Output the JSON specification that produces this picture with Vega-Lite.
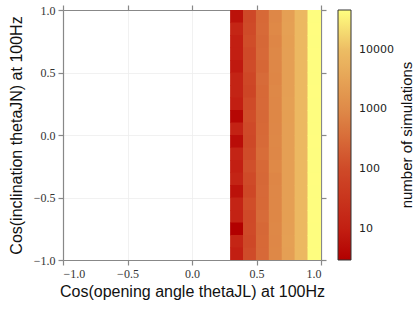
{
  "$schema": "https://vega.github.io/schema/vega-lite/v6.json",
  "width": 258,
  "height": 250,
  "autosize": {"type": "none"},
  "padding": {"left": 63, "top": 10, "right": 95, "bottom": 50},
  "background": "white",
  "config": {
    "view": {"stroke": null},
    "axis": {
      "labelFont": "Liberation Serif",
      "labelFontSize": 12,
      "labelColor": "#333",
      "tickColor": "#888",
      "domainColor": "#888",
      "domainWidth": 1.2,
      "tickWidth": 1.2,
      "tickSize": 5,
      "gridColor": "#eeeeee",
      "gridWidth": 0.8,
      "titleFont": "Liberation Sans",
      "titleFontSize": 16,
      "titleFontWeight": "normal",
      "titleColor": "#111"
    },
    "legend": {
      "labelFont": "DejaVu Sans",
      "labelFontSize": 11,
      "labelColor": "#222",
      "titleFont": "Liberation Sans",
      "titleFontSize": 15,
      "titleFontWeight": "normal",
      "titleColor": "#111"
    }
  },
  "data": {
    "values": [
      {"xlo":0.3,"xhi":0.4,"ylo":0.9,"yhi":1.0,"n":6},{"xlo":0.3,"xhi":0.4,"ylo":0.8,"yhi":0.9,"n":14},{"xlo":0.3,"xhi":0.4,"ylo":0.7,"yhi":0.8,"n":10},{"xlo":0.3,"xhi":0.4,"ylo":0.6,"yhi":0.7,"n":10},{"xlo":0.3,"xhi":0.4,"ylo":0.5,"yhi":0.6,"n":8},{"xlo":0.3,"xhi":0.4,"ylo":0.4,"yhi":0.5,"n":13},{"xlo":0.3,"xhi":0.4,"ylo":0.3,"yhi":0.4,"n":13},{"xlo":0.3,"xhi":0.4,"ylo":0.2,"yhi":0.3,"n":10},{"xlo":0.3,"xhi":0.4,"ylo":0.1,"yhi":0.2,"n":4},{"xlo":0.3,"xhi":0.4,"ylo":0.0,"yhi":0.1,"n":12},
      {"xlo":0.3,"xhi":0.4,"ylo":-0.1,"yhi":0.0,"n":5},{"xlo":0.3,"xhi":0.4,"ylo":-0.2,"yhi":-0.1,"n":13},{"xlo":0.3,"xhi":0.4,"ylo":-0.3,"yhi":-0.2,"n":10},{"xlo":0.3,"xhi":0.4,"ylo":-0.4,"yhi":-0.3,"n":13},{"xlo":0.3,"xhi":0.4,"ylo":-0.5,"yhi":-0.4,"n":6},{"xlo":0.3,"xhi":0.4,"ylo":-0.6,"yhi":-0.5,"n":13},{"xlo":0.3,"xhi":0.4,"ylo":-0.7,"yhi":-0.6,"n":12},{"xlo":0.3,"xhi":0.4,"ylo":-0.8,"yhi":-0.7,"n":3},{"xlo":0.3,"xhi":0.4,"ylo":-0.9,"yhi":-0.8,"n":14},{"xlo":0.3,"xhi":0.4,"ylo":-1.0,"yhi":-0.9,"n":10},

      {"xlo":0.4,"xhi":0.5,"ylo":0.9,"yhi":1.0,"n":90},{"xlo":0.4,"xhi":0.5,"ylo":0.8,"yhi":0.9,"n":100},{"xlo":0.4,"xhi":0.5,"ylo":0.7,"yhi":0.8,"n":110},{"xlo":0.4,"xhi":0.5,"ylo":0.6,"yhi":0.7,"n":95},{"xlo":0.4,"xhi":0.5,"ylo":0.5,"yhi":0.6,"n":105},{"xlo":0.4,"xhi":0.5,"ylo":0.4,"yhi":0.5,"n":85},{"xlo":0.4,"xhi":0.5,"ylo":0.3,"yhi":0.4,"n":75},{"xlo":0.4,"xhi":0.5,"ylo":0.2,"yhi":0.3,"n":100},{"xlo":0.4,"xhi":0.5,"ylo":0.1,"yhi":0.2,"n":110},{"xlo":0.4,"xhi":0.5,"ylo":0.0,"yhi":0.1,"n":95},
      {"xlo":0.4,"xhi":0.5,"ylo":-0.1,"yhi":0.0,"n":90},{"xlo":0.4,"xhi":0.5,"ylo":-0.2,"yhi":-0.1,"n":105},{"xlo":0.4,"xhi":0.5,"ylo":-0.3,"yhi":-0.2,"n":120},{"xlo":0.4,"xhi":0.5,"ylo":-0.4,"yhi":-0.3,"n":100},{"xlo":0.4,"xhi":0.5,"ylo":-0.5,"yhi":-0.4,"n":85},{"xlo":0.4,"xhi":0.5,"ylo":-0.6,"yhi":-0.5,"n":110},{"xlo":0.4,"xhi":0.5,"ylo":-0.7,"yhi":-0.6,"n":95},{"xlo":0.4,"xhi":0.5,"ylo":-0.8,"yhi":-0.7,"n":100},{"xlo":0.4,"xhi":0.5,"ylo":-0.9,"yhi":-0.8,"n":90},{"xlo":0.4,"xhi":0.5,"ylo":-1.0,"yhi":-0.9,"n":105},

      {"xlo":0.5,"xhi":0.6,"ylo":0.9,"yhi":1.0,"n":300},{"xlo":0.5,"xhi":0.6,"ylo":0.8,"yhi":0.9,"n":320},{"xlo":0.5,"xhi":0.6,"ylo":0.7,"yhi":0.8,"n":290},{"xlo":0.5,"xhi":0.6,"ylo":0.6,"yhi":0.7,"n":310},{"xlo":0.5,"xhi":0.6,"ylo":0.5,"yhi":0.6,"n":280},{"xlo":0.5,"xhi":0.6,"ylo":0.4,"yhi":0.5,"n":330},{"xlo":0.5,"xhi":0.6,"ylo":0.3,"yhi":0.4,"n":300},{"xlo":0.5,"xhi":0.6,"ylo":0.2,"yhi":0.3,"n":310},{"xlo":0.5,"xhi":0.6,"ylo":0.1,"yhi":0.2,"n":290},{"xlo":0.5,"xhi":0.6,"ylo":0.0,"yhi":0.1,"n":300},
      {"xlo":0.5,"xhi":0.6,"ylo":-0.1,"yhi":0.0,"n":320},{"xlo":0.5,"xhi":0.6,"ylo":-0.2,"yhi":-0.1,"n":350},{"xlo":0.5,"xhi":0.6,"ylo":-0.3,"yhi":-0.2,"n":300},{"xlo":0.5,"xhi":0.6,"ylo":-0.4,"yhi":-0.3,"n":290},{"xlo":0.5,"xhi":0.6,"ylo":-0.5,"yhi":-0.4,"n":310},{"xlo":0.5,"xhi":0.6,"ylo":-0.6,"yhi":-0.5,"n":300},{"xlo":0.5,"xhi":0.6,"ylo":-0.7,"yhi":-0.6,"n":330},{"xlo":0.5,"xhi":0.6,"ylo":-0.8,"yhi":-0.7,"n":290},{"xlo":0.5,"xhi":0.6,"ylo":-0.9,"yhi":-0.8,"n":300},{"xlo":0.5,"xhi":0.6,"ylo":-1.0,"yhi":-0.9,"n":310},

      {"xlo":0.6,"xhi":0.7,"ylo":0.9,"yhi":1.0,"n":900},{"xlo":0.6,"xhi":0.7,"ylo":0.8,"yhi":0.9,"n":950},{"xlo":0.6,"xhi":0.7,"ylo":0.7,"yhi":0.8,"n":880},{"xlo":0.6,"xhi":0.7,"ylo":0.6,"yhi":0.7,"n":920},{"xlo":0.6,"xhi":0.7,"ylo":0.5,"yhi":0.6,"n":900},{"xlo":0.6,"xhi":0.7,"ylo":0.4,"yhi":0.5,"n":870},{"xlo":0.6,"xhi":0.7,"ylo":0.3,"yhi":0.4,"n":930},{"xlo":0.6,"xhi":0.7,"ylo":0.2,"yhi":0.3,"n":910},{"xlo":0.6,"xhi":0.7,"ylo":0.1,"yhi":0.2,"n":890},{"xlo":0.6,"xhi":0.7,"ylo":0.0,"yhi":0.1,"n":900},
      {"xlo":0.6,"xhi":0.7,"ylo":-0.1,"yhi":0.0,"n":920},{"xlo":0.6,"xhi":0.7,"ylo":-0.2,"yhi":-0.1,"n":900},{"xlo":0.6,"xhi":0.7,"ylo":-0.3,"yhi":-0.2,"n":950},{"xlo":0.6,"xhi":0.7,"ylo":-0.4,"yhi":-0.3,"n":880},{"xlo":0.6,"xhi":0.7,"ylo":-0.5,"yhi":-0.4,"n":910},{"xlo":0.6,"xhi":0.7,"ylo":-0.6,"yhi":-0.5,"n":900},{"xlo":0.6,"xhi":0.7,"ylo":-0.7,"yhi":-0.6,"n":890},{"xlo":0.6,"xhi":0.7,"ylo":-0.8,"yhi":-0.7,"n":930},{"xlo":0.6,"xhi":0.7,"ylo":-0.9,"yhi":-0.8,"n":900},{"xlo":0.6,"xhi":0.7,"ylo":-1.0,"yhi":-0.9,"n":920},

      {"xlo":0.7,"xhi":0.8,"ylo":0.9,"yhi":1.0,"n":2600},{"xlo":0.7,"xhi":0.8,"ylo":0.8,"yhi":0.9,"n":2650},{"xlo":0.7,"xhi":0.8,"ylo":0.7,"yhi":0.8,"n":2550},{"xlo":0.7,"xhi":0.8,"ylo":0.6,"yhi":0.7,"n":2600},{"xlo":0.7,"xhi":0.8,"ylo":0.5,"yhi":0.6,"n":2620},{"xlo":0.7,"xhi":0.8,"ylo":0.4,"yhi":0.5,"n":2580},{"xlo":0.7,"xhi":0.8,"ylo":0.3,"yhi":0.4,"n":2600},{"xlo":0.7,"xhi":0.8,"ylo":0.2,"yhi":0.3,"n":2640},{"xlo":0.7,"xhi":0.8,"ylo":0.1,"yhi":0.2,"n":2570},{"xlo":0.7,"xhi":0.8,"ylo":0.0,"yhi":0.1,"n":2600},
      {"xlo":0.7,"xhi":0.8,"ylo":-0.1,"yhi":0.0,"n":2610},{"xlo":0.7,"xhi":0.8,"ylo":-0.2,"yhi":-0.1,"n":2590},{"xlo":0.7,"xhi":0.8,"ylo":-0.3,"yhi":-0.2,"n":2630},{"xlo":0.7,"xhi":0.8,"ylo":-0.4,"yhi":-0.3,"n":2580},{"xlo":0.7,"xhi":0.8,"ylo":-0.5,"yhi":-0.4,"n":2600},{"xlo":0.7,"xhi":0.8,"ylo":-0.6,"yhi":-0.5,"n":2620},{"xlo":0.7,"xhi":0.8,"ylo":-0.7,"yhi":-0.6,"n":2560},{"xlo":0.7,"xhi":0.8,"ylo":-0.8,"yhi":-0.7,"n":2600},{"xlo":0.7,"xhi":0.8,"ylo":-0.9,"yhi":-0.8,"n":2640},{"xlo":0.7,"xhi":0.8,"ylo":-1.0,"yhi":-0.9,"n":2590},

      {"xlo":0.8,"xhi":0.9,"ylo":0.9,"yhi":1.0,"n":8000},{"xlo":0.8,"xhi":0.9,"ylo":0.8,"yhi":0.9,"n":8100},{"xlo":0.8,"xhi":0.9,"ylo":0.7,"yhi":0.8,"n":7950},{"xlo":0.8,"xhi":0.9,"ylo":0.6,"yhi":0.7,"n":8050},{"xlo":0.8,"xhi":0.9,"ylo":0.5,"yhi":0.6,"n":8000},{"xlo":0.8,"xhi":0.9,"ylo":0.4,"yhi":0.5,"n":7900},{"xlo":0.8,"xhi":0.9,"ylo":0.3,"yhi":0.4,"n":8020},{"xlo":0.8,"xhi":0.9,"ylo":0.2,"yhi":0.3,"n":8080},{"xlo":0.8,"xhi":0.9,"ylo":0.1,"yhi":0.2,"n":7980},{"xlo":0.8,"xhi":0.9,"ylo":0.0,"yhi":0.1,"n":8000},
      {"xlo":0.8,"xhi":0.9,"ylo":-0.1,"yhi":0.0,"n":8060},{"xlo":0.8,"xhi":0.9,"ylo":-0.2,"yhi":-0.1,"n":7970},{"xlo":0.8,"xhi":0.9,"ylo":-0.3,"yhi":-0.2,"n":8010},{"xlo":0.8,"xhi":0.9,"ylo":-0.4,"yhi":-0.3,"n":8040},{"xlo":0.8,"xhi":0.9,"ylo":-0.5,"yhi":-0.4,"n":7990},{"xlo":0.8,"xhi":0.9,"ylo":-0.6,"yhi":-0.5,"n":8000},{"xlo":0.8,"xhi":0.9,"ylo":-0.7,"yhi":-0.6,"n":8070},{"xlo":0.8,"xhi":0.9,"ylo":-0.8,"yhi":-0.7,"n":7960},{"xlo":0.8,"xhi":0.9,"ylo":-0.9,"yhi":-0.8,"n":8030},{"xlo":0.8,"xhi":0.9,"ylo":-1.0,"yhi":-0.9,"n":8000},

      {"xlo":0.9,"xhi":1.0,"ylo":0.9,"yhi":1.0,"n":44000},{"xlo":0.9,"xhi":1.0,"ylo":0.8,"yhi":0.9,"n":44200},{"xlo":0.9,"xhi":1.0,"ylo":0.7,"yhi":0.8,"n":43900},{"xlo":0.9,"xhi":1.0,"ylo":0.6,"yhi":0.7,"n":44100},{"xlo":0.9,"xhi":1.0,"ylo":0.5,"yhi":0.6,"n":44000},{"xlo":0.9,"xhi":1.0,"ylo":0.4,"yhi":0.5,"n":43800},{"xlo":0.9,"xhi":1.0,"ylo":0.3,"yhi":0.4,"n":44150},{"xlo":0.9,"xhi":1.0,"ylo":0.2,"yhi":0.3,"n":44050},{"xlo":0.9,"xhi":1.0,"ylo":0.1,"yhi":0.2,"n":43950},{"xlo":0.9,"xhi":1.0,"ylo":0.0,"yhi":0.1,"n":44000},
      {"xlo":0.9,"xhi":1.0,"ylo":-0.1,"yhi":0.0,"n":44100},{"xlo":0.9,"xhi":1.0,"ylo":-0.2,"yhi":-0.1,"n":43900},{"xlo":0.9,"xhi":1.0,"ylo":-0.3,"yhi":-0.2,"n":44000},{"xlo":0.9,"xhi":1.0,"ylo":-0.4,"yhi":-0.3,"n":44200},{"xlo":0.9,"xhi":1.0,"ylo":-0.5,"yhi":-0.4,"n":43850},{"xlo":0.9,"xhi":1.0,"ylo":-0.6,"yhi":-0.5,"n":44000},{"xlo":0.9,"xhi":1.0,"ylo":-0.7,"yhi":-0.6,"n":44100},{"xlo":0.9,"xhi":1.0,"ylo":-0.8,"yhi":-0.7,"n":43950},{"xlo":0.9,"xhi":1.0,"ylo":-0.9,"yhi":-0.8,"n":44050},{"xlo":0.9,"xhi":1.0,"ylo":-1.0,"yhi":-0.9,"n":44000}
    ]
  },
  "layer": [
    {
      "mark": {"type": "rect", "strokeWidth": 0, "xOffset": -0.6, "yOffset": 0.6},
      "encoding": {
        "x": {
          "field": "xlo", "type": "quantitative",
          "scale": {"domain": [-1, 1], "nice": false, "zero": false},
          "axis": {"orient": "bottom", "values": [-1, -0.5, 0, 0.5, 1], "format": ".1f", "grid": false, "zindex": 1,
                   "title": "Cos(opening angle thetaJL) at 100Hz", "labelPadding": 3, "titlePadding": 4}
        },
        "x2": {"field": "xhi"},
        "y": {
          "field": "ylo", "type": "quantitative",
          "scale": {"domain": [-1, 1], "nice": false, "zero": false},
          "axis": {"orient": "left", "values": [-1, -0.5, 0, 0.5, 1], "format": ".1f", "grid": false, "zindex": 1,
                   "title": "Cos(inclination thetaJN) at 100Hz", "labelPadding": 3, "titlePadding": 9}
        },
        "y2": {"field": "yhi"},
        "color": {
          "field": "n", "type": "quantitative",
          "scale": {
            "type": "log",
            "domain": [3, 10, 100, 1000, 10000, 46000],
            "range": ["#b20000", "#c21f12", "#cf4a28", "#df8a48", "#edbd64", "#ffff80"],
            "interpolate": "rgb"
          },
          "legend": {
            "title": "number of simulations",
            "values": [10, 100, 1000, 10000],
            "format": "d",
            "gradientLength": 250,
            "gradientThickness": 13,
            "gradientStrokeColor": "#333",
            "gradientStrokeWidth": 1,
            "labelOffset": 8,
            "offset": 11,
            "padding": 0,
            "titleOrient": "right",
            "titleAnchor": "middle",
            "titlePadding": 6,
            "encode": {
              "title": {"update": {"angle": {"value": 270}, "baseline": {"value": "top"}}}
            }
          }
        }
      }
    },
    {
      "mark": {"type": "point", "opacity": 0},
      "encoding": {
        "x": {
          "field": "xlo", "type": "quantitative",
          "scale": {"domain": [-1, 1], "nice": false, "zero": false},
          "axis": {"orient": "top", "values": [-1, -0.5, 0, 0.5, 1], "labels": false, "grid": true, "title": null, "zindex": 0}
        },
        "y": {
          "field": "ylo", "type": "quantitative",
          "scale": {"domain": [-1, 1], "nice": false, "zero": false},
          "axis": {"orient": "right", "values": [-1, -0.5, 0, 0.5, 1], "labels": false, "grid": true, "title": null, "zindex": 0}
        }
      }
    }
  ],
  "resolve": {"axis": {"x": "independent", "y": "independent"}}
}
